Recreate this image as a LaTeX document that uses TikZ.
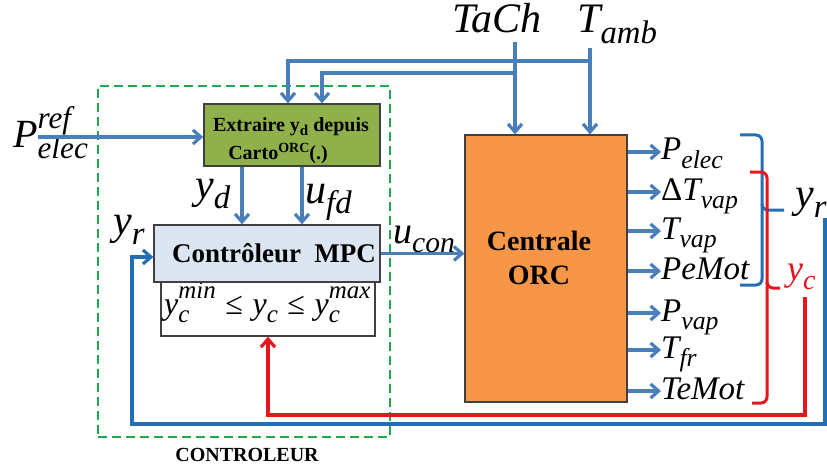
\documentclass[tikz,border=0pt]{standalone}
\usepackage{fontspec}
\setmainfont{Liberation Serif}
\usetikzlibrary{arrows.meta}
\definecolor{ablue}{RGB}{74,126,187}
\definecolor{lblue}{RGB}{36,110,180}
\definecolor{rred}{RGB}{228,22,30}
\definecolor{dgreen}{RGB}{30,170,75}
\definecolor{olive}{RGB}{143,176,74}
\definecolor{lightbl}{RGB}{220,230,242}
\definecolor{orng}{RGB}{247,150,70}
\definecolor{bord}{RGB}{64,64,64}
\makeatletter
\newcommand\sbsp[2]{%
 \begingroup
 \dimen@=0.25em \dimen2=0.48em
 \fontsize{\the\dimexpr\f@size pt*78/100\relax}{1pt}\selectfont
 \setbox0\hbox{#1}\setbox2\hbox{#2}%
 \ifdim\wd0>\wd2 \dimen4=\wd0 \else\dimen4=\wd2 \fi
 \rlap{\lower\dimen@\box0}\rlap{\raise\dimen2\box2}\hskip\dimen4\relax
 \endgroup}
\makeatother
\begin{document}
\begin{tikzpicture}[x=1pt,y=-1pt,
  every node/.style={inner sep=0pt},
  lab/.style={anchor=base west,font=\fontsize{#1}{#1}\selectfont\itshape},
  box/.style={draw=bord,line width=1.3pt},
  arr/.style={-{Straight Barb[length=8pt,width=14pt]}},
  bl/.style={draw=ablue,line width=3.2pt},
  loopc/.style={draw=lblue,line width=3.2pt},
  redc/.style={draw=rred,line width=3.2pt},
  brb/.style={draw=lblue,line width=3pt,rounded corners=6pt},
  brr/.style={draw=rred,line width=3pt,rounded corners=6pt}]
\useasboundingbox (0,0) rectangle (827,468);
% controller frame
\node[draw=dgreen,line width=2.8pt,dash pattern=on 9pt off 5pt,minimum width=292pt,minimum height=351pt] (ctrl) at (244,261.5) {};
\node[font=\fontsize{20}{20}\selectfont\bfseries] (ctrllab) at (247,455) {CONTROLEUR};
% blocks
\node[box,fill=olive,minimum width=176pt,minimum height=62pt] (ext) at (292,135) {};
\node[align=center,font=\fontsize{20}{28}\selectfont\bfseries] (exttxt) at (291,141) {Extraire y\raisebox{-0.2em}{\fontsize{15}{15}\selectfont d} depuis\\Carto\raisebox{0.35em}{\fontsize{14}{14}\selectfont ORC}(.)\hspace*{26pt}};
\node[box,fill=white,minimum width=214pt,minimum height=54pt] (cons) at (268,309) {};
\node[lab=32] (constxt) at (164,314) {y\sbsp{c}{min}\hspace{0.3em}{\upshape ≤}\hspace{0.3em}y\sbsp{c}{}\hspace{0.3em}{\upshape ≤}\hspace{0.3em}y\sbsp{c}{max}};
\node[box,fill=lightbl,minimum width=226pt,minimum height=57pt,font=\fontsize{27}{27}\selectfont\bfseries] (mpc) at (267,253.5) {\hspace*{14pt}Contrôleur\hspace{0.5em}MPC};
\node[box,fill=orng,minimum width=162pt,minimum height=267pt] (orc) at (546,268.5) {};
\node[font=\fontsize{28}{34}\selectfont\bfseries,align=center] (orctxt) at (539,258) {Centrale\\ORC};
% labels
\node[lab=40] (pref) at (13,148) {P\sbsp{elec}{ref}};
\node[lab=42] (tach) at (452,33) {TaCh};
\node[lab=42] (tamb) at (577,33) {T\sbsp{amb}{}};
\node[lab=42] (yd) at (195,198) {y\sbsp{d}{}};
\node[lab=42] (ufd) at (305,203) {u\sbsp{fd}{}};
\node[lab=42] (yrL) at (113,234) {y\sbsp{r}{}};
\node[lab=38] (ucon) at (393,243) {u\sbsp{con}{}};
\node[lab=33] (o1) at (661,160) {P\sbsp{elec}{}};
\node[lab=33] (o2) at (661,200) {{\upshape Δ}T\sbsp{vap}{}};
\node[lab=33] (o3) at (661,239) {T\sbsp{vap}{}};
\node[lab=33] (o4) at (661,279) {PeMot};
\node[lab=33] (o5) at (661,321) {P\sbsp{vap}{}};
\node[lab=33] (o6) at (661,358) {T\sbsp{fr}{}};
\node[lab=33] (o7) at (661,399) {TeMot};
\node[lab=42] (yrR) at (795,207) {y\sbsp{r}{}};
\node[lab=36,text=rred] (ycR) at (787,280) {y\sbsp{c}{}};
% inputs from top
\coordinate (tachin) at (515,42);
\coordinate (tambin) at (590,48);
\coordinate (j1) at (590,61);
\coordinate (j2) at (515,73);
\draw[bl,arr] (tachin) -- (tachin |- orc.north);
\draw[bl,arr] (tambin) -- (tambin |- orc.north);
\draw[bl,arr] (j1) -| ([xshift=-4pt]ext.north);
\draw[bl,arr] (j2) -| ([xshift=30pt]ext.north);
% P ref
\coordinate (hp) at (0,137);
\draw[bl,arr] (pref.east |- hp) -- (ext.west |- hp);
% yd, ufd
\draw[bl,arr] ([xshift=-50pt]ext.south) -- ([xshift=-50pt]ext.south |- mpc.north);
\draw[bl,arr] ([xshift=10pt]ext.south) -- ([xshift=10pt]ext.south |- mpc.north);
% ucon
\draw[bl,arr] (mpc.east) -- (mpc.east -| orc.west);
% outputs
\foreach \i/\yy in {1/152,2/192,3/231,4/271,5/313,6/350,7/391}{
  \coordinate (h\i) at (0,\yy);
  \draw[bl,arr] (orc.east |- h\i) -- (o\i.west |- h\i);
}
% braces
\draw[brb] (740,135) -- (762,135) -- (762,210) -- (784,210);
\draw[brb] (762,204) -- (762,285) -- (740,285);
\draw[brr] (750,172) -- (767,172) -- (767,288) -- (780,288);
\draw[brr] (767,282) -- (767,403) -- (752,403);
% feedback loops
\coordinate (lpS) at (825,218);
\coordinate (lpB) at (132,424);
\coordinate (lpIn) at (0,257);
\draw[loopc,arr] (lpS) |- (lpB) |- (mpc.west |- lpIn);
\coordinate (rdS) at (805,297);
\coordinate (rdB) at (0,415);
\draw[redc,arr] (rdS) -- (rdS |- rdB) -| (cons.south);
\end{tikzpicture}
\end{document}
